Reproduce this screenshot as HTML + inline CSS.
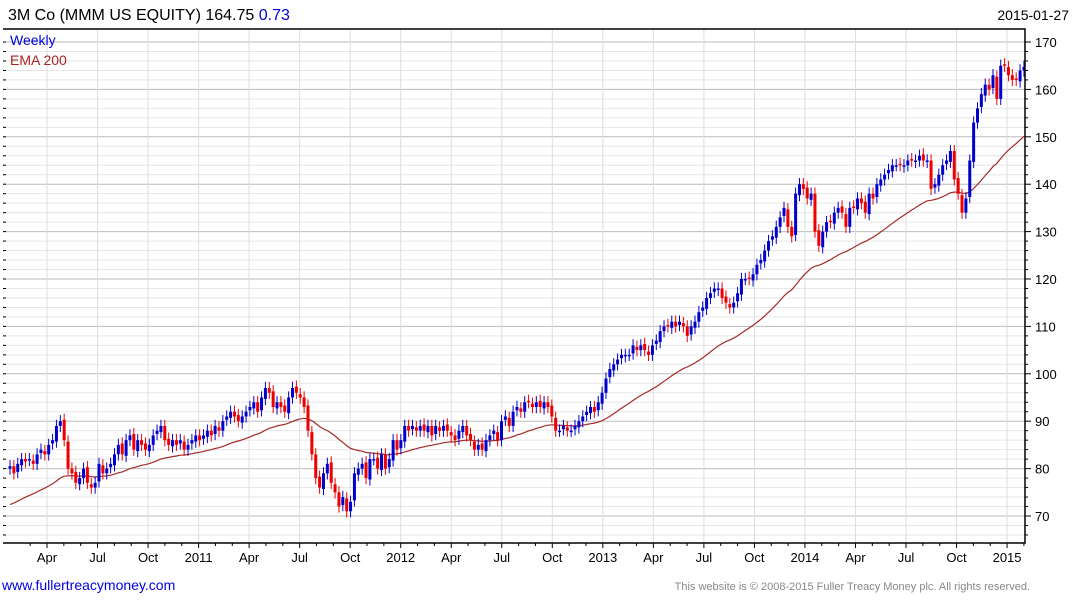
<!DOCTYPE html>
<html><head><meta charset="utf-8"><style>
body{margin:0;background:#fff;font-family:"Liberation Sans",sans-serif}
svg{display:block}
</style></head><body>
<svg id="c" width="1075" height="600" xmlns="http://www.w3.org/2000/svg">
<text x="8" y="20" font-size="16" fill="#000">3M Co (MMM US EQUITY) 164.75 <tspan fill="#0000dd">0.73</tspan></text>
<text x="1069" y="20" font-size="14" text-anchor="end" fill="#000">2015-01-27</text>
<g id="grid"></g>
<g id="ema"></g>
<g id="candles"></g>
<g id="axes"></g>
<text x="10" y="45" font-size="14" fill="#0000dd">Weekly</text>
<text x="10" y="65" font-size="14" fill="#aa2222">EMA 200</text>
<text x="2" y="590" font-size="14" fill="#0000dd">www.fullertreacymoney.com</text>
<text x="1030" y="590" font-size="11" fill="#888" text-anchor="end">This website is © 2008-2015 Fuller Treacy Money plc. All rights reserved.</text>
</svg>
<script>
const closes=[80.5,79,81,82,81.5,82,81,83,84,83,85,86,89,
90,86,80,79,77,78,80,77,76,77,81,79,80,
81,83,85,83,86,87,84,86,85,84,85,87,88,
89,86,85,86,85,86,84,85,86,87,86,87,88,
87,89,88,90,91,92,91,90,91,92,93,94,92,
95,97,96,93,94,93,92,95,97,96,
95,93,88,83,78,76,79,81,77,75,72,74,71,
73,79,80,81,78,82,82,80,83,80,82,86,84,
86,89,88,89,88,89,88,89,87,89,88,89,88,
87,86,88,89,87,86,84,85,84,86,87,88,86,
90,91,89,92,93,92,94,94,93,94,93,94,93,
91,88,88,89,88,88,89,90,91,92,93,92,94,
96,99,101,102,103,104,104,104,106,105,106,105,104,
106,107,109,110,110,111,110,111,110,108,110,111,113,
114,116,117,118,118,116,115,114,115,117,120,120,120,
121,123,124,126,128,129,131,133,135,131,129,138,140,
139,137,138,130,127,130,132,132,134,135,134,131,135,
135,137,136,134,138,137,140,141,142,143,144,144,
144,144,145,145,145,146,145,145,139,140,142,144,145,
147,141,138,134,137,145,153,156,159,161,160,163,158,165,165,163,162,162,164,164.75];
const yTicks=[70,80,90,100,110,120,130,140,150,160,170];
const monthLabels=["Apr","Jul","Oct","2011","Apr","Jul","Oct","2012","Apr","Jul","Oct","2013","Apr","Jul","Oct","2014","Apr","Jul","Oct","2015"];
const emaStart=72;
const NS="http://www.w3.org/2000/svg";
const L=3,R=1025,T=29,B=543;
const xw=i=>10+i*3.87;
const y=v=>42+(170-v)*4.74;
const mx=k=>47+k*50.53;
function mk(p,t,a){const e=document.createElementNS(NS,t);for(const k in a)e.setAttribute(k,a[k]);p.appendChild(e);return e;}
const grid=document.getElementById('grid'),axes=document.getElementById('axes');
for(let v=66;v<=170;v+=2){if(y(v)<T||y(v)>B)continue;const major=v%10===0;
const l=mk(grid,'line',{x1:L,x2:R,y1:y(v),y2:y(v),stroke:major?'#bbb':'#e6e6e6','stroke-width':1});

const t=mk(axes,'line',{x1:R,x2:R+(major?6:3),y1:y(v),y2:y(v),stroke:'#000'});

const t2=mk(axes,'line',{x1:L,x2:L+3,y1:y(v),y2:y(v),stroke:'#000'});
}
yTicks.forEach(v=>{const t=mk(axes,'text',{x:R+10,y:y(v)+5,'font-size':13,fill:'#000'});t.textContent=v;
});
monthLabels.forEach((m,k)=>{const x=mx(k);
const g=mk(grid,'line',{x1:x,x2:x,y1:T,y2:B,stroke:'#ddd'});

const t=mk(axes,'text',{x:x,y:562,'font-size':13,'text-anchor':'middle',fill:'#000'});t.textContent=m;
});
for(let k=-1;k<=61;k++){const x=mx(k/3);if(x>R||x<L)continue;const t=mk(axes,'line',{x1:x,x2:x,y1:B,y2:B+(k%3===0?5:3),stroke:'#000'});
}
const fr=mk(axes,'path',{d:`M${L} ${T}H${R}V${B}H${L}`,fill:'none',stroke:'#000','stroke-width':1.5});

let e=emaStart,pts=[];const a=2/41;
closes.forEach((c,i)=>{e=e+a*(c-e);pts.push(xw(i)+','+y(e).toFixed(1));});
const pl=mk(document.getElementById('ema'),'polyline',{points:pts.join(' '),fill:'none',stroke:'#a52a2a','stroke-width':1.2});

const cg=document.getElementById('candles');
closes.forEach((c,i)=>{const o=i?closes[i-1]+(i%3-1)*0.3:c-0.5;const up=c>=o;const col=up?'#0000cc':'#ee0000';
const hi=Math.max(o,c)+1.3,lo=Math.min(o,c)-1.3;const x=xw(i);
const w=mk(cg,'line',{x1:x,x2:x,y1:y(hi),y2:y(lo),stroke:col,'stroke-width':1});

const r=mk(cg,'rect',{x:x-1.5,y:y(Math.max(o,c)),width:3,height:Math.max(1.5,Math.abs(y(o)-y(c))),fill:col});
});
</script>
</body></html>
